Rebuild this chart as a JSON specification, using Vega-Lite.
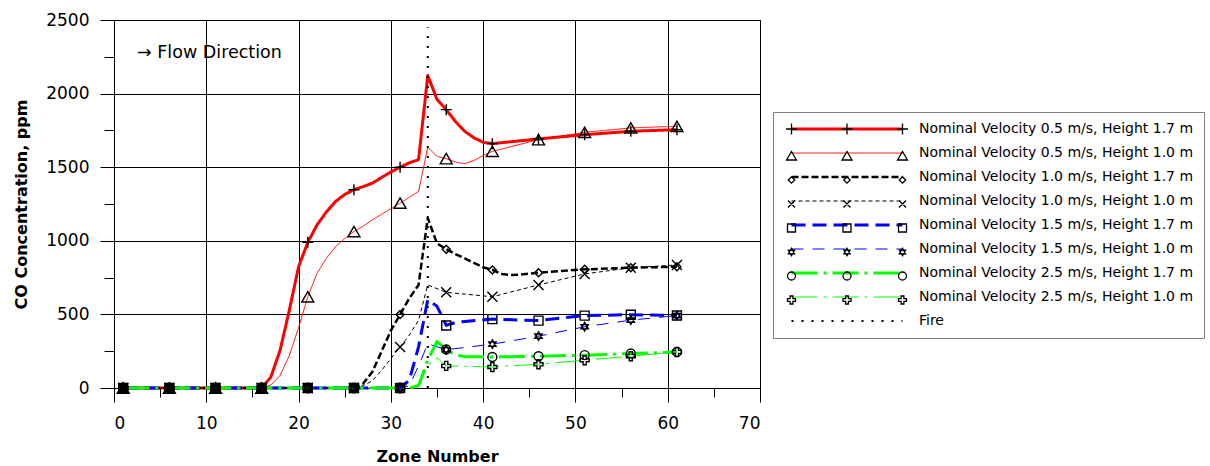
{
  "$schema": "https://vega.github.io/schema/vega-lite/v6.json",
  "width": 646,
  "height": 368,
  "autosize": {"type": "none"},
  "padding": {"left": 114, "top": 20, "right": 450, "bottom": 78},
  "background": "white",
  "config": {
    "view": {"stroke": "black", "strokeWidth": 1},
    "axis": {
      "labelFont": "DejaVu Sans", "labelFontSize": 17, "labelColor": "black",
      "titleFont": "DejaVu Sans", "titleFontSize": 16, "titleFontWeight": "bold", "titleColor": "black",
      "domainColor": "black", "tickColor": "black", "gridColor": "black", "gridWidth": 1,
      "labelOverlap": false
    }
  },
  "data": {"values": [
    {"s": "Nominal Velocity 0.5 m/s, Height 1.7 m", "zone": 1, "ppm": 0},
    {"s": "Nominal Velocity 0.5 m/s, Height 1.7 m", "zone": 6, "ppm": 0},
    {"s": "Nominal Velocity 0.5 m/s, Height 1.7 m", "zone": 11, "ppm": 0},
    {"s": "Nominal Velocity 0.5 m/s, Height 1.7 m", "zone": 16, "ppm": 0},
    {"s": "Nominal Velocity 0.5 m/s, Height 1.7 m", "zone": 17, "ppm": 75},
    {"s": "Nominal Velocity 0.5 m/s, Height 1.7 m", "zone": 18, "ppm": 257},
    {"s": "Nominal Velocity 0.5 m/s, Height 1.7 m", "zone": 19, "ppm": 529},
    {"s": "Nominal Velocity 0.5 m/s, Height 1.7 m", "zone": 20, "ppm": 824},
    {"s": "Nominal Velocity 0.5 m/s, Height 1.7 m", "zone": 21, "ppm": 990},
    {"s": "Nominal Velocity 0.5 m/s, Height 1.7 m", "zone": 22, "ppm": 1108},
    {"s": "Nominal Velocity 0.5 m/s, Height 1.7 m", "zone": 23, "ppm": 1195},
    {"s": "Nominal Velocity 0.5 m/s, Height 1.7 m", "zone": 24, "ppm": 1267},
    {"s": "Nominal Velocity 0.5 m/s, Height 1.7 m", "zone": 25, "ppm": 1315},
    {"s": "Nominal Velocity 0.5 m/s, Height 1.7 m", "zone": 26, "ppm": 1347},
    {"s": "Nominal Velocity 0.5 m/s, Height 1.7 m", "zone": 27, "ppm": 1368},
    {"s": "Nominal Velocity 0.5 m/s, Height 1.7 m", "zone": 28, "ppm": 1392},
    {"s": "Nominal Velocity 0.5 m/s, Height 1.7 m", "zone": 29, "ppm": 1430},
    {"s": "Nominal Velocity 0.5 m/s, Height 1.7 m", "zone": 30, "ppm": 1468},
    {"s": "Nominal Velocity 0.5 m/s, Height 1.7 m", "zone": 31, "ppm": 1500},
    {"s": "Nominal Velocity 0.5 m/s, Height 1.7 m", "zone": 32, "ppm": 1530},
    {"s": "Nominal Velocity 0.5 m/s, Height 1.7 m", "zone": 33, "ppm": 1551},
    {"s": "Nominal Velocity 0.5 m/s, Height 1.7 m", "zone": 34, "ppm": 2123},
    {"s": "Nominal Velocity 0.5 m/s, Height 1.7 m", "zone": 35, "ppm": 1960},
    {"s": "Nominal Velocity 0.5 m/s, Height 1.7 m", "zone": 36, "ppm": 1891},
    {"s": "Nominal Velocity 0.5 m/s, Height 1.7 m", "zone": 37, "ppm": 1810},
    {"s": "Nominal Velocity 0.5 m/s, Height 1.7 m", "zone": 38, "ppm": 1744},
    {"s": "Nominal Velocity 0.5 m/s, Height 1.7 m", "zone": 39, "ppm": 1700},
    {"s": "Nominal Velocity 0.5 m/s, Height 1.7 m", "zone": 40, "ppm": 1669},
    {"s": "Nominal Velocity 0.5 m/s, Height 1.7 m", "zone": 41, "ppm": 1660},
    {"s": "Nominal Velocity 0.5 m/s, Height 1.7 m", "zone": 46, "ppm": 1692},
    {"s": "Nominal Velocity 0.5 m/s, Height 1.7 m", "zone": 51, "ppm": 1721},
    {"s": "Nominal Velocity 0.5 m/s, Height 1.7 m", "zone": 56, "ppm": 1744},
    {"s": "Nominal Velocity 0.5 m/s, Height 1.7 m", "zone": 61, "ppm": 1755},

    {"s": "Nominal Velocity 0.5 m/s, Height 1.0 m", "zone": 1, "ppm": 0},
    {"s": "Nominal Velocity 0.5 m/s, Height 1.0 m", "zone": 6, "ppm": 0},
    {"s": "Nominal Velocity 0.5 m/s, Height 1.0 m", "zone": 11, "ppm": 0},
    {"s": "Nominal Velocity 0.5 m/s, Height 1.0 m", "zone": 16, "ppm": 0},
    {"s": "Nominal Velocity 0.5 m/s, Height 1.0 m", "zone": 17, "ppm": 20},
    {"s": "Nominal Velocity 0.5 m/s, Height 1.0 m", "zone": 18, "ppm": 86},
    {"s": "Nominal Velocity 0.5 m/s, Height 1.0 m", "zone": 19, "ppm": 220},
    {"s": "Nominal Velocity 0.5 m/s, Height 1.0 m", "zone": 20, "ppm": 410},
    {"s": "Nominal Velocity 0.5 m/s, Height 1.0 m", "zone": 21, "ppm": 620},
    {"s": "Nominal Velocity 0.5 m/s, Height 1.0 m", "zone": 22, "ppm": 779},
    {"s": "Nominal Velocity 0.5 m/s, Height 1.0 m", "zone": 23, "ppm": 880},
    {"s": "Nominal Velocity 0.5 m/s, Height 1.0 m", "zone": 24, "ppm": 960},
    {"s": "Nominal Velocity 0.5 m/s, Height 1.0 m", "zone": 25, "ppm": 1015},
    {"s": "Nominal Velocity 0.5 m/s, Height 1.0 m", "zone": 26, "ppm": 1063},
    {"s": "Nominal Velocity 0.5 m/s, Height 1.0 m", "zone": 27, "ppm": 1100},
    {"s": "Nominal Velocity 0.5 m/s, Height 1.0 m", "zone": 28, "ppm": 1142},
    {"s": "Nominal Velocity 0.5 m/s, Height 1.0 m", "zone": 29, "ppm": 1180},
    {"s": "Nominal Velocity 0.5 m/s, Height 1.0 m", "zone": 30, "ppm": 1218},
    {"s": "Nominal Velocity 0.5 m/s, Height 1.0 m", "zone": 31, "ppm": 1256},
    {"s": "Nominal Velocity 0.5 m/s, Height 1.0 m", "zone": 32, "ppm": 1295},
    {"s": "Nominal Velocity 0.5 m/s, Height 1.0 m", "zone": 33, "ppm": 1335},
    {"s": "Nominal Velocity 0.5 m/s, Height 1.0 m", "zone": 34, "ppm": 1635},
    {"s": "Nominal Velocity 0.5 m/s, Height 1.0 m", "zone": 35, "ppm": 1574},
    {"s": "Nominal Velocity 0.5 m/s, Height 1.0 m", "zone": 36, "ppm": 1558},
    {"s": "Nominal Velocity 0.5 m/s, Height 1.0 m", "zone": 37, "ppm": 1535},
    {"s": "Nominal Velocity 0.5 m/s, Height 1.0 m", "zone": 38, "ppm": 1524},
    {"s": "Nominal Velocity 0.5 m/s, Height 1.0 m", "zone": 39, "ppm": 1545},
    {"s": "Nominal Velocity 0.5 m/s, Height 1.0 m", "zone": 40, "ppm": 1580},
    {"s": "Nominal Velocity 0.5 m/s, Height 1.0 m", "zone": 41, "ppm": 1608},
    {"s": "Nominal Velocity 0.5 m/s, Height 1.0 m", "zone": 46, "ppm": 1687},
    {"s": "Nominal Velocity 0.5 m/s, Height 1.0 m", "zone": 51, "ppm": 1737},
    {"s": "Nominal Velocity 0.5 m/s, Height 1.0 m", "zone": 56, "ppm": 1767},
    {"s": "Nominal Velocity 0.5 m/s, Height 1.0 m", "zone": 61, "ppm": 1778},

    {"s": "Nominal Velocity 1.0 m/s, Height 1.7 m", "zone": 1, "ppm": 0},
    {"s": "Nominal Velocity 1.0 m/s, Height 1.7 m", "zone": 6, "ppm": 0},
    {"s": "Nominal Velocity 1.0 m/s, Height 1.7 m", "zone": 11, "ppm": 0},
    {"s": "Nominal Velocity 1.0 m/s, Height 1.7 m", "zone": 16, "ppm": 0},
    {"s": "Nominal Velocity 1.0 m/s, Height 1.7 m", "zone": 21, "ppm": 0},
    {"s": "Nominal Velocity 1.0 m/s, Height 1.7 m", "zone": 26, "ppm": 0},
    {"s": "Nominal Velocity 1.0 m/s, Height 1.7 m", "zone": 27, "ppm": 30},
    {"s": "Nominal Velocity 1.0 m/s, Height 1.7 m", "zone": 28, "ppm": 110},
    {"s": "Nominal Velocity 1.0 m/s, Height 1.7 m", "zone": 29, "ppm": 250},
    {"s": "Nominal Velocity 1.0 m/s, Height 1.7 m", "zone": 30, "ppm": 390},
    {"s": "Nominal Velocity 1.0 m/s, Height 1.7 m", "zone": 31, "ppm": 500},
    {"s": "Nominal Velocity 1.0 m/s, Height 1.7 m", "zone": 32, "ppm": 609},
    {"s": "Nominal Velocity 1.0 m/s, Height 1.7 m", "zone": 33, "ppm": 700},
    {"s": "Nominal Velocity 1.0 m/s, Height 1.7 m", "zone": 34, "ppm": 1154},
    {"s": "Nominal Velocity 1.0 m/s, Height 1.7 m", "zone": 35, "ppm": 983},
    {"s": "Nominal Velocity 1.0 m/s, Height 1.7 m", "zone": 36, "ppm": 943},
    {"s": "Nominal Velocity 1.0 m/s, Height 1.7 m", "zone": 37, "ppm": 910},
    {"s": "Nominal Velocity 1.0 m/s, Height 1.7 m", "zone": 38, "ppm": 881},
    {"s": "Nominal Velocity 1.0 m/s, Height 1.7 m", "zone": 39, "ppm": 850},
    {"s": "Nominal Velocity 1.0 m/s, Height 1.7 m", "zone": 40, "ppm": 820},
    {"s": "Nominal Velocity 1.0 m/s, Height 1.7 m", "zone": 41, "ppm": 802},
    {"s": "Nominal Velocity 1.0 m/s, Height 1.7 m", "zone": 42, "ppm": 775},
    {"s": "Nominal Velocity 1.0 m/s, Height 1.7 m", "zone": 43, "ppm": 768},
    {"s": "Nominal Velocity 1.0 m/s, Height 1.7 m", "zone": 44, "ppm": 770},
    {"s": "Nominal Velocity 1.0 m/s, Height 1.7 m", "zone": 46, "ppm": 783},
    {"s": "Nominal Velocity 1.0 m/s, Height 1.7 m", "zone": 51, "ppm": 806},
    {"s": "Nominal Velocity 1.0 m/s, Height 1.7 m", "zone": 56, "ppm": 817},
    {"s": "Nominal Velocity 1.0 m/s, Height 1.7 m", "zone": 61, "ppm": 824},

    {"s": "Nominal Velocity 1.0 m/s, Height 1.0 m", "zone": 1, "ppm": 0},
    {"s": "Nominal Velocity 1.0 m/s, Height 1.0 m", "zone": 6, "ppm": 0},
    {"s": "Nominal Velocity 1.0 m/s, Height 1.0 m", "zone": 11, "ppm": 0},
    {"s": "Nominal Velocity 1.0 m/s, Height 1.0 m", "zone": 16, "ppm": 0},
    {"s": "Nominal Velocity 1.0 m/s, Height 1.0 m", "zone": 21, "ppm": 0},
    {"s": "Nominal Velocity 1.0 m/s, Height 1.0 m", "zone": 26, "ppm": 0},
    {"s": "Nominal Velocity 1.0 m/s, Height 1.0 m", "zone": 27, "ppm": 15},
    {"s": "Nominal Velocity 1.0 m/s, Height 1.0 m", "zone": 28, "ppm": 50},
    {"s": "Nominal Velocity 1.0 m/s, Height 1.0 m", "zone": 29, "ppm": 120},
    {"s": "Nominal Velocity 1.0 m/s, Height 1.0 m", "zone": 30, "ppm": 200},
    {"s": "Nominal Velocity 1.0 m/s, Height 1.0 m", "zone": 31, "ppm": 279},
    {"s": "Nominal Velocity 1.0 m/s, Height 1.0 m", "zone": 32, "ppm": 360},
    {"s": "Nominal Velocity 1.0 m/s, Height 1.0 m", "zone": 33, "ppm": 460},
    {"s": "Nominal Velocity 1.0 m/s, Height 1.0 m", "zone": 34, "ppm": 700},
    {"s": "Nominal Velocity 1.0 m/s, Height 1.0 m", "zone": 35, "ppm": 675},
    {"s": "Nominal Velocity 1.0 m/s, Height 1.0 m", "zone": 36, "ppm": 650},
    {"s": "Nominal Velocity 1.0 m/s, Height 1.0 m", "zone": 38, "ppm": 638},
    {"s": "Nominal Velocity 1.0 m/s, Height 1.0 m", "zone": 41, "ppm": 620},
    {"s": "Nominal Velocity 1.0 m/s, Height 1.0 m", "zone": 46, "ppm": 700},
    {"s": "Nominal Velocity 1.0 m/s, Height 1.0 m", "zone": 51, "ppm": 775},
    {"s": "Nominal Velocity 1.0 m/s, Height 1.0 m", "zone": 56, "ppm": 817},
    {"s": "Nominal Velocity 1.0 m/s, Height 1.0 m", "zone": 61, "ppm": 836},

    {"s": "Nominal Velocity 1.5 m/s, Height 1.7 m", "zone": 1, "ppm": 0},
    {"s": "Nominal Velocity 1.5 m/s, Height 1.7 m", "zone": 6, "ppm": 0},
    {"s": "Nominal Velocity 1.5 m/s, Height 1.7 m", "zone": 11, "ppm": 0},
    {"s": "Nominal Velocity 1.5 m/s, Height 1.7 m", "zone": 16, "ppm": 0},
    {"s": "Nominal Velocity 1.5 m/s, Height 1.7 m", "zone": 21, "ppm": 0},
    {"s": "Nominal Velocity 1.5 m/s, Height 1.7 m", "zone": 26, "ppm": 0},
    {"s": "Nominal Velocity 1.5 m/s, Height 1.7 m", "zone": 31, "ppm": 0},
    {"s": "Nominal Velocity 1.5 m/s, Height 1.7 m", "zone": 32, "ppm": 52},
    {"s": "Nominal Velocity 1.5 m/s, Height 1.7 m", "zone": 33, "ppm": 280},
    {"s": "Nominal Velocity 1.5 m/s, Height 1.7 m", "zone": 34, "ppm": 600},
    {"s": "Nominal Velocity 1.5 m/s, Height 1.7 m", "zone": 35, "ppm": 555},
    {"s": "Nominal Velocity 1.5 m/s, Height 1.7 m", "zone": 36, "ppm": 425},
    {"s": "Nominal Velocity 1.5 m/s, Height 1.7 m", "zone": 37, "ppm": 445},
    {"s": "Nominal Velocity 1.5 m/s, Height 1.7 m", "zone": 38, "ppm": 452},
    {"s": "Nominal Velocity 1.5 m/s, Height 1.7 m", "zone": 41, "ppm": 468},
    {"s": "Nominal Velocity 1.5 m/s, Height 1.7 m", "zone": 46, "ppm": 458},
    {"s": "Nominal Velocity 1.5 m/s, Height 1.7 m", "zone": 51, "ppm": 492},
    {"s": "Nominal Velocity 1.5 m/s, Height 1.7 m", "zone": 56, "ppm": 498},
    {"s": "Nominal Velocity 1.5 m/s, Height 1.7 m", "zone": 61, "ppm": 493},

    {"s": "Nominal Velocity 1.5 m/s, Height 1.0 m", "zone": 1, "ppm": 0},
    {"s": "Nominal Velocity 1.5 m/s, Height 1.0 m", "zone": 6, "ppm": 0},
    {"s": "Nominal Velocity 1.5 m/s, Height 1.0 m", "zone": 11, "ppm": 0},
    {"s": "Nominal Velocity 1.5 m/s, Height 1.0 m", "zone": 16, "ppm": 0},
    {"s": "Nominal Velocity 1.5 m/s, Height 1.0 m", "zone": 21, "ppm": 0},
    {"s": "Nominal Velocity 1.5 m/s, Height 1.0 m", "zone": 26, "ppm": 0},
    {"s": "Nominal Velocity 1.5 m/s, Height 1.0 m", "zone": 31, "ppm": 0},
    {"s": "Nominal Velocity 1.5 m/s, Height 1.0 m", "zone": 32, "ppm": 15},
    {"s": "Nominal Velocity 1.5 m/s, Height 1.0 m", "zone": 33, "ppm": 150},
    {"s": "Nominal Velocity 1.5 m/s, Height 1.0 m", "zone": 34, "ppm": 300},
    {"s": "Nominal Velocity 1.5 m/s, Height 1.0 m", "zone": 35, "ppm": 280},
    {"s": "Nominal Velocity 1.5 m/s, Height 1.0 m", "zone": 36, "ppm": 260},
    {"s": "Nominal Velocity 1.5 m/s, Height 1.0 m", "zone": 41, "ppm": 298},
    {"s": "Nominal Velocity 1.5 m/s, Height 1.0 m", "zone": 46, "ppm": 352},
    {"s": "Nominal Velocity 1.5 m/s, Height 1.0 m", "zone": 51, "ppm": 416},
    {"s": "Nominal Velocity 1.5 m/s, Height 1.0 m", "zone": 56, "ppm": 461},
    {"s": "Nominal Velocity 1.5 m/s, Height 1.0 m", "zone": 61, "ppm": 492},

    {"s": "Nominal Velocity 2.5 m/s, Height 1.7 m", "zone": 1, "ppm": 0},
    {"s": "Nominal Velocity 2.5 m/s, Height 1.7 m", "zone": 6, "ppm": 0},
    {"s": "Nominal Velocity 2.5 m/s, Height 1.7 m", "zone": 11, "ppm": 0},
    {"s": "Nominal Velocity 2.5 m/s, Height 1.7 m", "zone": 16, "ppm": 0},
    {"s": "Nominal Velocity 2.5 m/s, Height 1.7 m", "zone": 21, "ppm": 0},
    {"s": "Nominal Velocity 2.5 m/s, Height 1.7 m", "zone": 26, "ppm": 0},
    {"s": "Nominal Velocity 2.5 m/s, Height 1.7 m", "zone": 31, "ppm": 0},
    {"s": "Nominal Velocity 2.5 m/s, Height 1.7 m", "zone": 32, "ppm": 0},
    {"s": "Nominal Velocity 2.5 m/s, Height 1.7 m", "zone": 33, "ppm": 15},
    {"s": "Nominal Velocity 2.5 m/s, Height 1.7 m", "zone": 34, "ppm": 190},
    {"s": "Nominal Velocity 2.5 m/s, Height 1.7 m", "zone": 35, "ppm": 315},
    {"s": "Nominal Velocity 2.5 m/s, Height 1.7 m", "zone": 36, "ppm": 262},
    {"s": "Nominal Velocity 2.5 m/s, Height 1.7 m", "zone": 37, "ppm": 225},
    {"s": "Nominal Velocity 2.5 m/s, Height 1.7 m", "zone": 38, "ppm": 213},
    {"s": "Nominal Velocity 2.5 m/s, Height 1.7 m", "zone": 41, "ppm": 211},
    {"s": "Nominal Velocity 2.5 m/s, Height 1.7 m", "zone": 46, "ppm": 216},
    {"s": "Nominal Velocity 2.5 m/s, Height 1.7 m", "zone": 51, "ppm": 223},
    {"s": "Nominal Velocity 2.5 m/s, Height 1.7 m", "zone": 56, "ppm": 234},
    {"s": "Nominal Velocity 2.5 m/s, Height 1.7 m", "zone": 61, "ppm": 245},

    {"s": "Nominal Velocity 2.5 m/s, Height 1.0 m", "zone": 1, "ppm": 0},
    {"s": "Nominal Velocity 2.5 m/s, Height 1.0 m", "zone": 6, "ppm": 0},
    {"s": "Nominal Velocity 2.5 m/s, Height 1.0 m", "zone": 11, "ppm": 0},
    {"s": "Nominal Velocity 2.5 m/s, Height 1.0 m", "zone": 16, "ppm": 0},
    {"s": "Nominal Velocity 2.5 m/s, Height 1.0 m", "zone": 21, "ppm": 0},
    {"s": "Nominal Velocity 2.5 m/s, Height 1.0 m", "zone": 26, "ppm": 0},
    {"s": "Nominal Velocity 2.5 m/s, Height 1.0 m", "zone": 31, "ppm": 0},
    {"s": "Nominal Velocity 2.5 m/s, Height 1.0 m", "zone": 32, "ppm": 0},
    {"s": "Nominal Velocity 2.5 m/s, Height 1.0 m", "zone": 33, "ppm": 15},
    {"s": "Nominal Velocity 2.5 m/s, Height 1.0 m", "zone": 34, "ppm": 150},
    {"s": "Nominal Velocity 2.5 m/s, Height 1.0 m", "zone": 35, "ppm": 205},
    {"s": "Nominal Velocity 2.5 m/s, Height 1.0 m", "zone": 36, "ppm": 150},
    {"s": "Nominal Velocity 2.5 m/s, Height 1.0 m", "zone": 41, "ppm": 143},
    {"s": "Nominal Velocity 2.5 m/s, Height 1.0 m", "zone": 46, "ppm": 161},
    {"s": "Nominal Velocity 2.5 m/s, Height 1.0 m", "zone": 51, "ppm": 189},
    {"s": "Nominal Velocity 2.5 m/s, Height 1.0 m", "zone": 56, "ppm": 216},
    {"s": "Nominal Velocity 2.5 m/s, Height 1.0 m", "zone": 61, "ppm": 245},

    {"s": "Fire", "zone": 34, "ppm": 0},
    {"s": "Fire", "zone": 34, "ppm": 2450}
  ]},
  "encoding": {
    "x": {
      "field": "zone", "type": "quantitative",
      "scale": {"domain": [0, 70], "nice": false, "zero": false},
      "axis": {
        "title": "Zone Number",
        "values": [0, 5, 10, 15, 20, 25, 30, 35, 40, 45, 50, 55, 60, 65, 70],
        "format": "d",
        "labelExpr": "datum.value % 10 === 0 ? datum.label : ''",
        "tickSize": {"condition": {"test": "datum.value % 10 === 0", "value": 14}, "value": 9},
        "gridOpacity": {"condition": {"test": "datum.value % 10 === 0", "value": 1}, "value": 0},
        "labelPadding": 13,
        "titlePadding": 17
      }
    },
    "y": {
      "field": "ppm", "type": "quantitative",
      "scale": {"domain": [0, 2500], "nice": false},
      "axis": {
        "title": "CO Concentration, ppm",
        "values": [0, 250, 500, 750, 1000, 1250, 1500, 1750, 2000, 2250, 2500],
        "format": "d",
        "labelExpr": "datum.value % 500 === 0 ? datum.label : ''",
        "tickSize": {"condition": {"test": "datum.value % 500 === 0", "value": 14}, "value": 10},
        "gridOpacity": {"condition": {"test": "datum.value % 500 === 0", "value": 1}, "value": 0},
        "labelPadding": 11,
        "titlePadding": 16
      }
    }
  },
  "layer": [
    {
      "mark": {"type": "line", "strokeCap": "butt", "strokeJoin": "round"},
      "encoding": {
        "color": {
          "field": "s", "type": "nominal",
          "scale": {
            "domain": ["Nominal Velocity 0.5 m/s, Height 1.7 m", "Nominal Velocity 0.5 m/s, Height 1.0 m", "Nominal Velocity 1.0 m/s, Height 1.7 m", "Nominal Velocity 1.0 m/s, Height 1.0 m", "Nominal Velocity 1.5 m/s, Height 1.7 m", "Nominal Velocity 1.5 m/s, Height 1.0 m", "Nominal Velocity 2.5 m/s, Height 1.7 m", "Nominal Velocity 2.5 m/s, Height 1.0 m", "Fire"],
            "range": ["#ff0000", "#ff0000", "#000000", "#000000", "#0000ff", "#0000ff", "#00ff00", "#00ff00", "#000000"]
          },
          "legend": {
            "orient": "none", "legendX": 659, "legendY": 92, "title": null,
            "symbolType": "M-55.5,0H55.5", "symbolSize": 4, "symbolOffset": 57,
            "labelFont": "DejaVu Sans", "labelFontSize": 14, "labelColor": "black", "labelLimit": 400, "labelOffset": 65,
            "padding": 10, "rowPadding": 10, "strokeColor": "#808080"
          }
        },
        "strokeDash": {
          "field": "s", "type": "nominal",
          "scale": {
            "domain": ["Nominal Velocity 0.5 m/s, Height 1.7 m", "Nominal Velocity 0.5 m/s, Height 1.0 m", "Nominal Velocity 1.0 m/s, Height 1.7 m", "Nominal Velocity 1.0 m/s, Height 1.0 m", "Nominal Velocity 1.5 m/s, Height 1.7 m", "Nominal Velocity 1.5 m/s, Height 1.0 m", "Nominal Velocity 2.5 m/s, Height 1.7 m", "Nominal Velocity 2.5 m/s, Height 1.0 m", "Fire"],
            "range": [[1, 0], [1, 0], [7, 3], [4, 3], [14, 7], [12, 9], [26, 6, 3, 6], [26, 6, 3, 6], [2, 8]]
          }
        },
        "strokeWidth": {
          "field": "s", "type": "nominal",
          "scale": {
            "type": "ordinal",
            "domain": ["Nominal Velocity 0.5 m/s, Height 1.7 m", "Nominal Velocity 0.5 m/s, Height 1.0 m", "Nominal Velocity 1.0 m/s, Height 1.7 m", "Nominal Velocity 1.0 m/s, Height 1.0 m", "Nominal Velocity 1.5 m/s, Height 1.7 m", "Nominal Velocity 1.5 m/s, Height 1.0 m", "Nominal Velocity 2.5 m/s, Height 1.7 m", "Nominal Velocity 2.5 m/s, Height 1.0 m", "Fire"],
            "range": [3, 1, 2.5, 1, 3, 1, 3, 1, 2]
          }
        }
      }
    },
    {
      "transform": [{"filter": "datum.s !== 'Fire' && (datum.zone - 1) % 5 === 0"}],
      "mark": {"type": "point", "filled": false, "color": "black", "strokeWidth": 1.4, "opacity": 1},
      "encoding": {
        "shape": {
          "field": "s", "type": "nominal", "legend": null,
          "scale": {
            "domain": ["Nominal Velocity 0.5 m/s, Height 1.7 m", "Nominal Velocity 0.5 m/s, Height 1.0 m", "Nominal Velocity 1.0 m/s, Height 1.7 m", "Nominal Velocity 1.0 m/s, Height 1.0 m", "Nominal Velocity 1.5 m/s, Height 1.7 m", "Nominal Velocity 1.5 m/s, Height 1.0 m", "Nominal Velocity 2.5 m/s, Height 1.7 m", "Nominal Velocity 2.5 m/s, Height 1.0 m"],
            "range": ["M-1,0H1M0,-1V1", "triangle-up", "diamond", "M-1,-1L1,1M-1,1L1,-1", "square", "M0,-1L0.866,0.5L-0.866,0.5ZM0,1L0.866,-0.5L-0.866,-0.5Z", "circle", "M-0.35,-1H0.35V-0.35H1V0.35H0.35V1H-0.35V0.35H-1V-0.35H-0.35Z"]
          }
        },
        "size": {
          "field": "s", "type": "nominal", "legend": null,
          "scale": {
            "type": "ordinal",
            "domain": ["Nominal Velocity 0.5 m/s, Height 1.7 m", "Nominal Velocity 0.5 m/s, Height 1.0 m", "Nominal Velocity 1.0 m/s, Height 1.7 m", "Nominal Velocity 1.0 m/s, Height 1.0 m", "Nominal Velocity 1.5 m/s, Height 1.7 m", "Nominal Velocity 1.5 m/s, Height 1.0 m", "Nominal Velocity 2.5 m/s, Height 1.7 m", "Nominal Velocity 2.5 m/s, Height 1.0 m"],
            "range": [121, 144, 64, 100, 81, 72, 81, 81]
          }
        }
      }
    },
    {
      "transform": [{"filter": "datum.zone < 0"}],
      "mark": {"type": "point", "filled": false, "color": "black", "strokeWidth": 1.3, "size": 4, "opacity": 1},
      "encoding": {
        "shape": {
          "field": "s", "type": "nominal",
          "scale": {
            "domain": ["Nominal Velocity 0.5 m/s, Height 1.7 m", "Nominal Velocity 0.5 m/s, Height 1.0 m", "Nominal Velocity 1.0 m/s, Height 1.7 m", "Nominal Velocity 1.0 m/s, Height 1.0 m", "Nominal Velocity 1.5 m/s, Height 1.7 m", "Nominal Velocity 1.5 m/s, Height 1.0 m", "Nominal Velocity 2.5 m/s, Height 1.7 m", "Nominal Velocity 2.5 m/s, Height 1.0 m", "Fire"],
            "range": [
              "M-61,0H-50M-55.5,-5.5V5.5M-5.5,0H5.5M0,-5.5V5.5M50,0H61M55.5,-5.5V5.5",
              "M-55.5,-4.5L-50.5,4L-60.5,4ZM0,-4.5L5,4L-5,4ZM55.5,-4.5L60.5,4L50.5,4Z",
              "M-55.5,-3.2L-52.3,0L-55.5,3.2L-58.7,0ZM0,-3.2L3.2,0L0,3.2L-3.2,0ZM55.5,-3.2L58.7,0L55.5,3.2L52.3,0Z",
              "M-59,-3.5L-52,3.5M-59,3.5L-52,-3.5M-3.5,-3.5L3.5,3.5M-3.5,3.5L3.5,-3.5M52,-3.5L59,3.5M52,3.5L59,-3.5",
              "M-59.5,-4H-51.5V4H-59.5ZM-4,-4H4V4H-4ZM51.5,-4H59.5V4H51.5Z",
              "M-55.5,-3.6L-52.38,1.8L-58.62,1.8ZM-55.5,3.6L-52.38,-1.8L-58.62,-1.8ZM0,-3.6L3.12,1.8L-3.12,1.8ZM0,3.6L3.12,-1.8L-3.12,-1.8ZM55.5,-3.6L58.62,1.8L52.38,1.8ZM55.5,3.6L58.62,-1.8L52.38,-1.8Z",
              "M-51.5,0A4,4 0 1 1 -59.5,0A4,4 0 1 1 -51.5,0M4,0A4,4 0 1 1 -4,0A4,4 0 1 1 4,0M59.5,0A4,4 0 1 1 51.5,0A4,4 0 1 1 59.5,0",
              "M-56.9,-4h2.8v2.6h2.6v2.8h-2.6v2.6h-2.8v-2.6h-2.6v-2.8h2.6zM-1.4,-4h2.8v2.6h2.6v2.8h-2.6v2.6h-2.8v-2.6h-2.6v-2.8h2.6zM54.1,-4h2.8v2.6h2.6v2.8h-2.6v2.6h-2.8v-2.6h-2.6v-2.8h2.6z",
              "M0,0"
            ]
          },
          "legend": {
            "orient": "none", "legendX": 659, "legendY": 92, "title": null,
            "symbolSize": 4, "symbolOffset": 57, "symbolStrokeColor": "black", "symbolFillColor": "transparent", "symbolStrokeWidth": 1.3,
            "labelFont": "DejaVu Sans", "labelFontSize": 14, "labelExpr": "''", "labelLimit": 400, "labelOffset": 65,
            "padding": 10, "rowPadding": 10, "strokeColor": null
          }
        }
      }
    },
    {
      "transform": [{"filter": "datum.s === 'Fire' && datum.ppm > 0"}],
      "mark": {"type": "text", "text": "→ Flow Direction", "align": "left", "baseline": "middle", "font": "DejaVu Sans", "fontSize": 17.5, "fill": "black", "opacity": 1},
      "encoding": {
        "x": {"datum": 2.5, "type": "quantitative"},
        "y": {"datum": 2278, "type": "quantitative"}
      }
    }
  ],
  "resolve": {
    "scale": {"shape": "independent"},
    "legend": {"shape": "independent"}
  }
}
